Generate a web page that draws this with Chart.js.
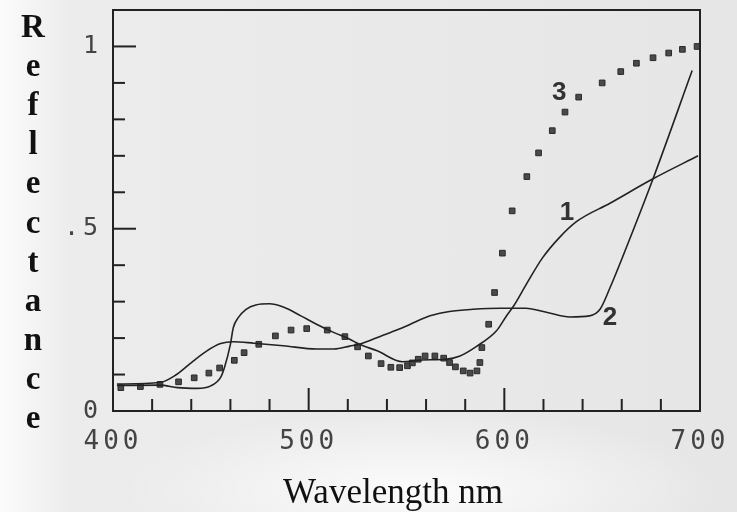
<!DOCTYPE html>
<html>
<head>
<meta charset="utf-8">
<script src="https://cdn.jsdelivr.net/npm/chart.js@4.4.1/dist/chart.umd.min.js"></script>
<style>
html, body { margin: 0; padding: 0; }
body {
  width: 737px; height: 512px; overflow: hidden;
  background:
    radial-gradient(ellipse 300px 80px at 420px 490px, rgba(255,255,255,0.85), rgba(255,255,255,0)),
    linear-gradient(to right, #fbfbfb 0px, #ececec 70px, #e6e6e6 100%);
}
</style>
</head>
<body>
<canvas id="chartSpectra" width="737" height="512"></canvas>
<script>
// curve 1 (peak near 480 nm, steep rise after 600)
var curve1Nm   = [402, 424, 433, 443, 450, 455, 457, 460, 461.5, 464, 468, 473, 480, 487, 496, 504, 513, 521, 526, 535, 548, 558, 570, 577, 586, 596, 601, 605, 611.5, 619.5, 628, 637, 654, 676, 699];
var curve1Refl = [0.07, 0.071, 0.064, 0.062, 0.069, 0.092, 0.12, 0.183, 0.229, 0.256, 0.279, 0.291, 0.294, 0.285, 0.261, 0.238, 0.215, 0.197, 0.183, 0.165, 0.135, 0.14, 0.142, 0.15, 0.178, 0.22, 0.26, 0.29, 0.35, 0.42, 0.475, 0.52, 0.57, 0.637, 0.70];

// curve 2 (plateau, then steep rise after 650)
var curve2Nm   = [402, 424, 432.5, 441, 448, 455, 461.5, 472, 487, 504, 513, 521, 526, 538, 547, 552, 562, 572, 584, 598, 611, 622, 633.5, 643.5, 649, 654, 661, 676, 696];
var curve2Refl = [0.074, 0.078, 0.1, 0.137, 0.165, 0.185, 0.19, 0.186, 0.179, 0.17, 0.17, 0.178, 0.183, 0.208, 0.226, 0.238, 0.261, 0.273, 0.279, 0.282, 0.282, 0.27, 0.258, 0.261, 0.28, 0.338, 0.43, 0.637, 0.934];

// curve 3 (measured points)
var curve3Nm   = [404, 414, 424, 433.5, 441.5, 449, 454.5, 462, 467, 474.5, 483, 491, 499, 509.5, 518.5, 525, 530.5, 537, 542, 546.5, 550.5, 553, 556, 559.5, 564.5, 569, 572, 575, 579, 582.5, 586, 587.5, 588.5, 592, 595, 599, 604, 611.5, 617.5, 624.5, 631, 638, 650, 659.5, 667.5, 676, 684, 691, 698.5];
var curve3Refl = [0.064, 0.067, 0.073, 0.08, 0.091, 0.104, 0.118, 0.139, 0.16, 0.183, 0.206, 0.222, 0.226, 0.222, 0.204, 0.176, 0.151, 0.13, 0.12, 0.119, 0.124, 0.132, 0.142, 0.151, 0.151, 0.145, 0.133, 0.121, 0.11, 0.104, 0.11, 0.133, 0.174, 0.238, 0.325, 0.433, 0.549, 0.643, 0.708, 0.769, 0.82, 0.861, 0.9, 0.931, 0.954, 0.969, 0.982, 0.992, 1.0];

var curveNames  = ['1', '2', '3'];
var xTickLabels = ['400', '500', '600', '700'];
var yTickValues = [0, 0.5, 1];
var yTickLabels = ['0', '.5', '1'];
var xTitle = 'Wavelength nm';
var yTitle = 'Reflectance';

function pts(xs, ys) {
  return xs.map(function (x, i) { return { x: x, y: ys[i] }; });
}

var ink = '#222';

// inside ticks, frame, curve numbers and axis titles
var extras = {
  id: 'extras',
  beforeDraw: function (chart) {
    chart.ctx.letterSpacing = '4px';
  },
  beforeDatasetsDraw: function (chart) {
    chart.ctx.letterSpacing = '0px';
  },
  afterDraw: function (chart, args, opts) {
    var ctx = chart.ctx, a = chart.chartArea;
    var sx = chart.scales.x, sy = chart.scales.y;
    ctx.save();
    ctx.letterSpacing = '0px';
    ctx.strokeStyle = ink;

    // top and right frame
    ctx.lineWidth = 2;
    ctx.beginPath();
    ctx.moveTo(a.left, a.top);
    ctx.lineTo(a.right, a.top);
    ctx.lineTo(a.right, a.bottom);
    ctx.stroke();

    ctx.lineWidth = 2;
    sx.ticks.forEach(function (t) {
      if (t.value <= sx.min || t.value >= sx.max) return;
      var px = sx.getPixelForValue(t.value);
      var len = (t.value % 100 === 0) ? 23 : 12;
      ctx.beginPath();
      ctx.moveTo(px, a.bottom);
      ctx.lineTo(px, a.bottom - len);
      ctx.stroke();
    });
    sy.ticks.forEach(function (t) {
      if (t.value <= sy.min + 1e-6 || t.value >= sy.max - 1e-6) return;
      var py = sy.getPixelForValue(t.value);
      var major = Math.abs(t.value * 2 - Math.round(t.value * 2)) < 1e-6;
      ctx.beginPath();
      ctx.moveTo(a.left, py);
      ctx.lineTo(a.left + (major ? 23 : 12), py);
      ctx.stroke();
    });

    // curve numbers
    ctx.fillStyle = '#333';
    ctx.font = 'bold 26px "Liberation Sans"';
    ctx.textAlign = 'center';
    ctx.textBaseline = 'middle';
    opts.labelAt.forEach(function (p, i) {
      ctx.fillText(curveNames[i], sx.getPixelForValue(p[0]), sy.getPixelForValue(p[1]));
    });

    // stacked y title
    ctx.fillStyle = '#111';
    ctx.font = 'bold 33px "Liberation Serif"';
    ctx.textBaseline = 'alphabetic';
    for (var i = 0; i < yTitle.length; i++) {
      ctx.fillText(yTitle[i], 33, 37 + i * 39.1);
    }

    // x title
    ctx.font = '35px "Liberation Serif"';
    ctx.fillText(xTitle, 393, 503);
    ctx.restore();
  }
};

var ctx = document.getElementById('chartSpectra').getContext('2d');
var spectra = new Chart(ctx, {
  type: 'line',
  data: {
    datasets: [
      { label: curveNames[0], data: pts(curve1Nm, curve1Refl), borderColor: ink, borderWidth: 1.6, pointRadius: 0, cubicInterpolationMode: 'monotone', fill: false },
      { label: curveNames[1], data: pts(curve2Nm, curve2Refl), borderColor: ink, borderWidth: 1.6, pointRadius: 0, cubicInterpolationMode: 'monotone', fill: false },
      { label: curveNames[2], data: pts(curve3Nm, curve3Refl), showLine: false, pointStyle: 'rect', pointRadius: 4, backgroundColor: '#4a4a4a', borderColor: '#2a2a2a', borderWidth: 1 }
    ]
  },
  options: {
    responsive: false,
    animation: false,
    devicePixelRatio: 1,
    layout: { padding: { left: 0, right: 37, top: 10, bottom: 0 } },
    plugins: {
      legend: { display: false },
      tooltip: { enabled: false },
      extras: { labelAt: [[632, 0.544], [654, 0.255], [628, 0.874]] }
    },
    scales: {
      x: {
        type: 'linear', min: 400, max: 700,
        grid: { display: true, drawOnChartArea: false, drawTicks: false },
        border: { color: ink, width: 2 },
        ticks: {
          stepSize: 20, autoSkip: false, maxRotation: 0, padding: 16,
          color: '#444',
          font: { family: '"DejaVu Sans Mono"', size: 26 },
          callback: function (v) {
            var i = xTickLabels.indexOf(String(v));
            return i >= 0 ? xTickLabels[i] : '';
          }
        },
        afterFit: function (s) { s.height = 101; s.paddingLeft = 0; s.paddingRight = 0; }
      },
      y: {
        min: 0, max: 1.1,
        grid: { display: true, drawOnChartArea: false, drawTicks: false },
        border: { color: ink, width: 2 },
        ticks: {
          stepSize: 0.1, autoSkip: false, padding: 11,
          color: '#444',
          font: { family: '"DejaVu Sans Mono"', size: 25 },
          callback: function (v) {
            for (var i = 0; i < yTickValues.length; i++) {
              if (Math.abs(yTickValues[i] - v) < 1e-6) return yTickLabels[i];
            }
            return '';
          }
        },
        afterFit: function (s) { s.width = 113; s.paddingTop = 0; s.paddingBottom = 0; }
      }
    }
  },
  plugins: [extras]
});
</script>
</body>
</html>
